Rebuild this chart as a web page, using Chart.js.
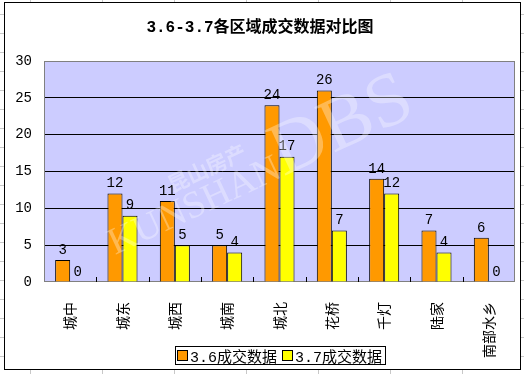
<!DOCTYPE html>
<html>
<head>
<meta charset="utf-8">
<script src="https://cdn.jsdelivr.net/npm/chart.js@4.4.1/dist/chart.umd.min.js"></script>
<style>
  html, body { margin: 0; padding: 0; }
  body {
    width: 524px; height: 374px; position: relative; overflow: hidden;
    background-color: #fff;
    background-image:
      repeating-linear-gradient(to bottom, transparent 0, transparent 18px, #c8c8c8 18px, #c8c8c8 19px),
      repeating-linear-gradient(to right, transparent 0, transparent 71px, #c8c8c8 71px, #c8c8c8 72px);
    background-position: 0 -4px, -41px 0;
  }
  #frame {
    position: absolute; left: 4px; top: 2px;
    width: 515px; height: 366px;
    border: 1px solid #000; background: #fff;
  }
  #legend {
    position: absolute; left: 175px; top: 346px;
    height: 17px; padding: 0 3px 0 1px;
    border: 1px solid #000; background: #fff;
    display: flex; align-items: center;
    font: 15px "Liberation Mono", "Noto Sans CJK SC", sans-serif;
    white-space: nowrap;
  }
  #legend .box {
    display: inline-block; width: 9px; height: 9px;
    border: 1px solid #000; margin: 0 2px 0 0;
  }
  #legend .item { display: flex; align-items: center; margin-right: 5px; }
  #legend .item:last-child { margin-right: 0; }
</style>
</head>
<body>
<div id="frame"><canvas id="chart" width="515" height="366"></canvas></div>
<div id="legend"></div>
<script>
// 数据
const titleText = '3.6-3.7各区域成交数据对比图';
const categories = ['城中', '城东', '城西', '城南', '城北', '花桥', '千灯', '陆家', '南部水乡'];
const seriesNames = ['3.6成交数据', '3.7成交数据'];
const values36 = [3, 12, 11, 5, 24, 26, 14, 7, 6];
const values37 = [0, 9, 5, 4, 17, 7, 12, 4, 0];
const yTicks = [0, 5, 10, 15, 20, 25, 30];

const colors = ['#FF9900', '#FFFF00'];
const numFont = '"Liberation Mono", "Noto Sans CJK SC", sans-serif';

// 绘图区背景、边框和分类刻度
const plotArea = {
  id: 'plotArea',
  beforeDraw(chart) {
    const { ctx, chartArea: a } = chart;
    ctx.save();
    ctx.fillStyle = '#CCCCFF';
    ctx.fillRect(a.left, a.top, a.right - a.left, a.bottom - a.top);
    ctx.restore();
  },
  beforeDatasetsDraw(chart) {
    const { ctx, chartArea: a } = chart;
    const xs = chart.scales.x;
    ctx.save();
    ctx.strokeStyle = '#808080';
    ctx.lineWidth = 1;
    ctx.strokeRect(Math.round(a.left) + 0.5, Math.round(a.top) + 0.5,
      Math.round(a.right - a.left) - 1, Math.round(a.bottom - a.top) - 1);
    // 分类之间的内向刻度线
    const step = xs.getPixelForValue(1) - xs.getPixelForValue(0);
    ctx.strokeStyle = '#000';
    ctx.beginPath();
    for (let i = 1; i < categories.length; i++) {
      const x = Math.round(xs.getPixelForValue(i) - step / 2) + 0.5;
      ctx.moveTo(x, a.bottom);
      ctx.lineTo(x, a.bottom - 5);
    }
    ctx.stroke();
    ctx.restore();
  },
  afterDatasetsDraw(chart) {
    const { ctx } = chart;
    ctx.save();
    ctx.font = '14px ' + numFont;
    ctx.fillStyle = '#000';
    ctx.textAlign = 'center';
    ctx.textBaseline = 'bottom';
    chart.data.datasets.forEach((ds, di) => {
      chart.getDatasetMeta(di).data.forEach((el, i) => {
        ctx.fillText(String(ds.data[i]), el.x, el.y - 3);
      });
    });
    ctx.restore();
  },
  // 水印
  afterDraw(chart) {
    const { ctx } = chart;
    ctx.save();
    ctx.translate(110, 252);
    ctx.rotate(-25 * Math.PI / 180);
    ctx.fillStyle = 'rgba(255,255,255,0.32)';
    ctx.textBaseline = 'alphabetic';
    ctx.font = '38px "Liberation Serif", serif';
    ctx.fillText('KUNSHAN', 0, 0);
    ctx.font = '76px "Liberation Serif", serif';
    ctx.fillText('DBS', 186, 0);
    ctx.font = 'bold 21px "Noto Sans CJK SC", sans-serif';
    ctx.fillText('昆山房产', 78, -32);
    ctx.restore();
  }
};

new Chart(document.getElementById('chart'), {
  type: 'bar',
  data: {
    labels: categories,
    datasets: [
      { label: seriesNames[0], data: values36, backgroundColor: colors[0] },
      { label: seriesNames[1], data: values37, backgroundColor: colors[1] }
    ]
  },
  options: {
    responsive: false,
    animation: false,
    layout: { padding: { top: 0, right: 5, bottom: 0, left: 0 } },
    datasets: {
      bar: { borderColor: '#000', borderWidth: 1, categoryPercentage: 0.574, barPercentage: 1 }
    },
    plugins: {
      legend: { display: false },
      tooltip: { enabled: false },
      title: {
        display: true,
        text: titleText,
        color: '#000',
        font: { family: numFont, size: 16, weight: 'bold' },
        padding: { top: 15, bottom: 23.8 }
      }
    },
    scales: {
      x: {
        grid: { display: false },
        border: { display: false },
        ticks: {
          color: '#000', autoSkip: false, minRotation: 90, maxRotation: 90, padding: 12,
          font: { family: '"Noto Sans CJK SC", sans-serif', size: 14 }
        },
        afterFit(scale) { scale.height = 87; }
      },
      y: {
        min: yTicks[0],
        max: yTicks[yTicks.length - 1],
        afterBuildTicks(scale) { scale.ticks = yTicks.map(v => ({ value: v })); },
        grid: {
          drawTicks: false,
          color: c => (c.tick.value === yTicks[0] || c.tick.value === yTicks[yTicks.length - 1]) ? 'rgba(0,0,0,0)' : '#000'
        },
        border: { display: false },
        ticks: { color: '#000', padding: 12, font: { family: numFont, size: 14 } },
        afterFit(scale) { scale.width = 39; }
      }
    }
  },
  plugins: [plotArea]
});

// 图例
const legend = document.getElementById('legend');
seriesNames.forEach((name, i) => {
  const item = document.createElement('span');
  item.className = 'item';
  item.innerHTML = '<span class="box" style="background:' + colors[i] + '"></span><span>' + name + '</span>';
  legend.appendChild(item);
});
</script>
</body>
</html>
